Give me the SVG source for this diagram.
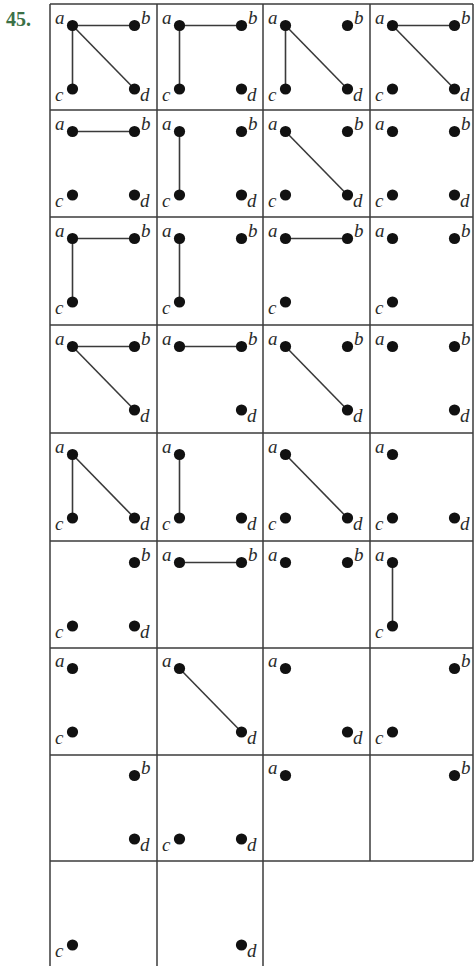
<svg xmlns="http://www.w3.org/2000/svg" width="474" height="966" viewBox="0 0 474 966">
<style>
.grid{stroke:#3c3c3c;stroke-width:1.5;fill:none}
.e{stroke:#3a3a3a;stroke-width:1.6;fill:none}
.dot{fill:#111}
.lb{font-family:"Liberation Serif","Times New Roman",serif;font-style:italic;font-size:19px;fill:#2a2a2a}
.num{font-family:"Liberation Serif","Times New Roman",serif;font-weight:bold;font-size:20px;fill:#3b7046}
</style>
<defs>
<g id="A"><circle class="dot" cx="22.5" cy="21.5" r="5.6"/><text class="lb" x="5" y="20">a</text></g>
<g id="B"><circle class="dot" cx="84.5" cy="21.5" r="5.6"/><text class="lb" x="91" y="20">b</text></g>
<g id="C"><circle class="dot" cx="22.5" cy="85" r="5.6"/><text class="lb" x="5" y="97">c</text></g>
<g id="D"><circle class="dot" cx="84.5" cy="85" r="5.6"/><text class="lb" x="90" y="97">d</text></g>
<line id="AB" class="e" x1="22.5" y1="21.5" x2="84.5" y2="21.5"/>
<line id="AC" class="e" x1="22.5" y1="21.5" x2="22.5" y2="85"/>
<line id="AD" class="e" x1="22.5" y1="21.5" x2="84.5" y2="85"/>
</defs>
<rect width="474" height="966" fill="#fff"/>
<text class="num" x="6" y="26">45.</text>
<g id="grid" class="grid">
<path d="M50 4H473M50 110H473M50 217H473M50 325H473M50 433H473M50 541H473M50 648H473M50 755H473M50 861H473"/>
<path d="M50 4V966M157 4V966M263 4V966M370 4V861M473 4V861"/>
</g>
<g id="connectors">
<g transform="translate(50,4)"><use href="#AB"/><use href="#AC"/><use href="#AD"/></g>
<g transform="translate(157,4)"><use href="#AB"/><use href="#AC"/></g>
<g transform="translate(263,4)"><use href="#AC"/><use href="#AD"/></g>
<g transform="translate(370,4)"><use href="#AB"/><use href="#AD"/></g>
<g transform="translate(50,110)"><use href="#AB"/></g>
<g transform="translate(157,110)"><use href="#AC"/></g>
<g transform="translate(263,110)"><use href="#AD"/></g>
<g transform="translate(50,217)"><use href="#AB"/><use href="#AC"/></g>
<g transform="translate(157,217)"><use href="#AC"/></g>
<g transform="translate(263,217)"><use href="#AB"/></g>
<g transform="translate(50,325)"><use href="#AB"/><use href="#AD"/></g>
<g transform="translate(157,325)"><use href="#AB"/></g>
<g transform="translate(263,325)"><use href="#AD"/></g>
<g transform="translate(50,433)"><use href="#AC"/><use href="#AD"/></g>
<g transform="translate(157,433)"><use href="#AC"/></g>
<g transform="translate(263,433)"><use href="#AD"/></g>
<g transform="translate(157,541)"><use href="#AB"/></g>
<g transform="translate(370,541)"><use href="#AC"/></g>
<g transform="translate(157,647)"><use href="#AD"/></g>
</g>
<g id="r1c1" transform="translate(50,4)"><use href="#A"/><use href="#B"/><use href="#C"/><use href="#D"/></g>
<g id="r1c2" transform="translate(157,4)"><use href="#A"/><use href="#B"/><use href="#C"/><use href="#D"/></g>
<g id="r1c3" transform="translate(263,4)"><use href="#A"/><use href="#B"/><use href="#C"/><use href="#D"/></g>
<g id="r1c4" transform="translate(370,4)"><use href="#A"/><use href="#B"/><use href="#C"/><use href="#D"/></g>
<g id="r2c1" transform="translate(50,110)"><use href="#A"/><use href="#B"/><use href="#C"/><use href="#D"/></g>
<g id="r2c2" transform="translate(157,110)"><use href="#A"/><use href="#B"/><use href="#C"/><use href="#D"/></g>
<g id="r2c3" transform="translate(263,110)"><use href="#A"/><use href="#B"/><use href="#C"/><use href="#D"/></g>
<g id="r2c4" transform="translate(370,110)"><use href="#A"/><use href="#B"/><use href="#C"/><use href="#D"/></g>
<g id="r3c1" transform="translate(50,217)"><use href="#A"/><use href="#B"/><use href="#C"/></g>
<g id="r3c2" transform="translate(157,217)"><use href="#A"/><use href="#B"/><use href="#C"/></g>
<g id="r3c3" transform="translate(263,217)"><use href="#A"/><use href="#B"/><use href="#C"/></g>
<g id="r3c4" transform="translate(370,217)"><use href="#A"/><use href="#B"/><use href="#C"/></g>
<g id="r4c1" transform="translate(50,325)"><use href="#A"/><use href="#B"/><use href="#D"/></g>
<g id="r4c2" transform="translate(157,325)"><use href="#A"/><use href="#B"/><use href="#D"/></g>
<g id="r4c3" transform="translate(263,325)"><use href="#A"/><use href="#B"/><use href="#D"/></g>
<g id="r4c4" transform="translate(370,325)"><use href="#A"/><use href="#B"/><use href="#D"/></g>
<g id="r5c1" transform="translate(50,433)"><use href="#A"/><use href="#C"/><use href="#D"/></g>
<g id="r5c2" transform="translate(157,433)"><use href="#A"/><use href="#C"/><use href="#D"/></g>
<g id="r5c3" transform="translate(263,433)"><use href="#A"/><use href="#C"/><use href="#D"/></g>
<g id="r5c4" transform="translate(370,433)"><use href="#A"/><use href="#C"/><use href="#D"/></g>
<g id="r6c1" transform="translate(50,541)"><use href="#B"/><use href="#C"/><use href="#D"/></g>
<g id="r6c2" transform="translate(157,541)"><use href="#A"/><use href="#B"/></g>
<g id="r6c3" transform="translate(263,541)"><use href="#A"/><use href="#B"/></g>
<g id="r6c4" transform="translate(370,541)"><use href="#A"/><use href="#C"/></g>
<g id="r7c1" transform="translate(50,647)"><use href="#A"/><use href="#C"/></g>
<g id="r7c2" transform="translate(157,647)"><use href="#A"/><use href="#D"/></g>
<g id="r7c3" transform="translate(263,647)"><use href="#A"/><use href="#D"/></g>
<g id="r7c4" transform="translate(370,647)"><use href="#B"/><use href="#C"/></g>
<g id="r8c1" transform="translate(50,754)"><use href="#B"/><use href="#D"/></g>
<g id="r8c2" transform="translate(157,754)"><use href="#C"/><use href="#D"/></g>
<g id="r8c3" transform="translate(263,754)"><use href="#A"/></g>
<g id="r8c4" transform="translate(370,754)"><use href="#B"/></g>
<g id="r9c1" transform="translate(50,860)"><use href="#C"/></g>
<g id="r9c2" transform="translate(157,860)"><use href="#D"/></g>
</svg>
